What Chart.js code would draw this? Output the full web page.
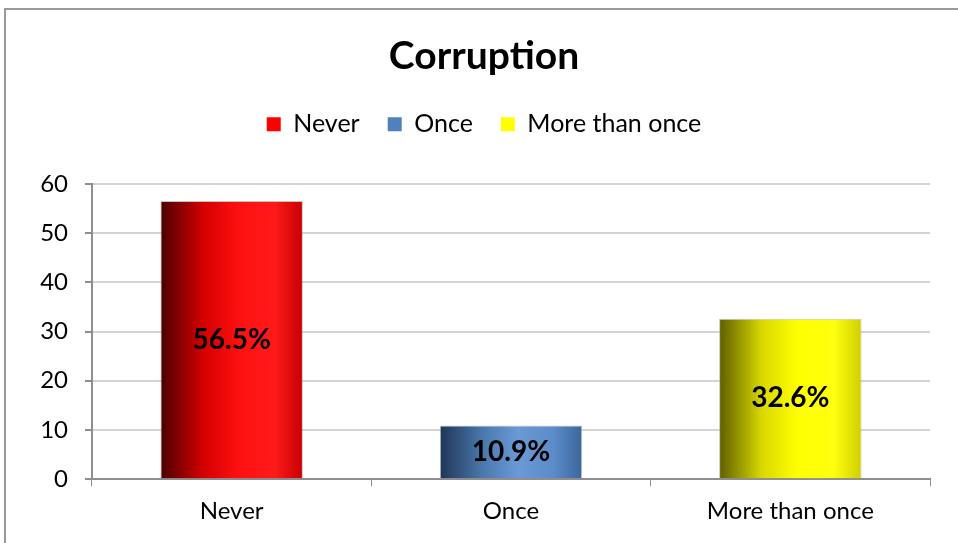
<!DOCTYPE html>
<html>
<head>
<meta charset="utf-8">
<script src="https://cdn.jsdelivr.net/npm/chart.js@4.4.1/dist/chart.umd.min.js"></script>
<style>
  html, body { margin: 0; padding: 0; background: #fff; }
  #wrap { position: relative; width: 958px; height: 543px; }
  #frame { position: absolute; left: 4px; top: 8px; width: 1000px; height: 600px;
           border-top: 2px solid #9a9a9a; border-left: 2px solid #9a9a9a; pointer-events: none; }
</style>
</head>
<body>
<div id="wrap">
  <canvas id="myChart" width="958" height="543"></canvas>
  <div id="frame"></div>
</div>
<script>
// chart data
const categories = ["Never", "Once", "More than once"];
const percents = [56.5, 10.9, 32.6];
const yTicks = [0, 10, 20, 30, 40, 50, 60];

const legendColors = ["#ff0000", "#4f81bd", "#ffff00"];
const gradStops = [
  ["#4a0000", "#d40000", "#ff1010", "#ff1a1a", "#c80000"],
  ["#1f3554", "#4a78ad", "#6a9ad6", "#5b8bc8", "#3b669a"],
  ["#5e5e00", "#d8d800", "#ffff00", "#ffff10", "#cfcf00"]
];

const CAT_PCT = 0.51;
const FONT = "Lato, 'Open Sans', sans-serif";

function barFill(ctx) {
  const chart = ctx.chart;
  const xs = chart.scales.x;
  if (!xs || ctx.dataIndex === undefined) return legendColors[ctx.dataIndex || 0];
  const center = xs.getPixelForValue(ctx.dataIndex);
  const w = (xs.width / categories.length) * CAT_PCT;
  const g = chart.ctx.createLinearGradient(center - w / 2, 0, center + w / 2, 0);
  const s = gradStops[ctx.dataIndex];
  g.addColorStop(0, s[0]);
  g.addColorStop(0.3, s[1]);
  g.addColorStop(0.55, s[2]);
  g.addColorStop(0.8, s[3]);
  g.addColorStop(1, s[4]);
  return g;
}

// labels inside bars
const barLabels = {
  id: "barLabels",
  afterDatasetsDraw(chart) {
    const c = chart.ctx;
    const meta = chart.getDatasetMeta(0);
    c.save();
    c.font = "bold 28px " + FONT;
    c.fillStyle = "#000";
    c.textAlign = "center";
    c.textBaseline = "middle";
    meta.data.forEach((bar, i) => {
      const mid = (bar.y + bar.base) / 2;
      c.fillText(percents[i].toFixed(1) + "%", bar.x, mid);
    });
    c.restore();
  }
};

// extra room under the legend
const legendGap = {
  id: "legendGap",
  beforeInit(chart) {
    const fit = chart.legend.fit;
    chart.legend.fit = function () {
      fit.bind(chart.legend)();
      this.height += 37;
    };
  }
};

new Chart(document.getElementById("myChart"), {
  type: "bar",
  data: {
    labels: categories,
    datasets: [{
      label: "Corruption",
      data: percents,
      backgroundColor: barFill,
      borderColor: "rgba(170,170,170,0.7)",
      borderWidth: 1,
      categoryPercentage: CAT_PCT,
      barPercentage: 1
    }]
  },
  options: {
    responsive: false,
    animation: false,
    layout: { padding: { left: 38, right: 28, top: 4, bottom: 6 } },
    plugins: {
      title: {
        display: true,
        text: "Corruption",
        color: "#000",
        font: { family: FONT, size: 39, weight: "bold" },
        padding: { top: 29, bottom: 4 }
      },
      legend: {
        display: true,
        position: "top",
        labels: {
          color: "#000",
          font: { family: FONT, size: 25 },
          boxWidth: 14,
          boxHeight: 14,
          padding: 28,
          generateLabels: () => categories.map((c, i) => ({
            text: c,
            fillStyle: legendColors[i],
            strokeStyle: legendColors[i],
            lineWidth: 0,
            index: i
          }))
        }
      },
      tooltip: { enabled: false }
    },
    scales: {
      y: {
        min: 0,
        max: 60,
        afterBuildTicks: (axis) => { axis.ticks = yTicks.map(v => ({ value: v })); },
        afterFit: (scale) => { scale.width = 54; },
        ticks: { color: "#000", font: { family: FONT, size: 24 }, padding: 17 },
        grid: { color: "#d4d4d4", lineWidth: 2, tickColor: "#8e8e8e", tickLength: 7 },
        border: { color: "#8e8e8e", width: 2 }
      },
      x: {
        afterFit: (scale) => { scale.paddingLeft = 0; scale.paddingRight = 0; },
        ticks: { color: "#000", font: { family: FONT, size: 24 }, padding: 11 },
        grid: { drawOnChartArea: false, offset: true, tickColor: "#8e8e8e", tickLength: 7 },
        border: { color: "#8e8e8e", width: 2 }
      }
    }
  },
  plugins: [barLabels, legendGap]
});
</script>
</body>
</html>
